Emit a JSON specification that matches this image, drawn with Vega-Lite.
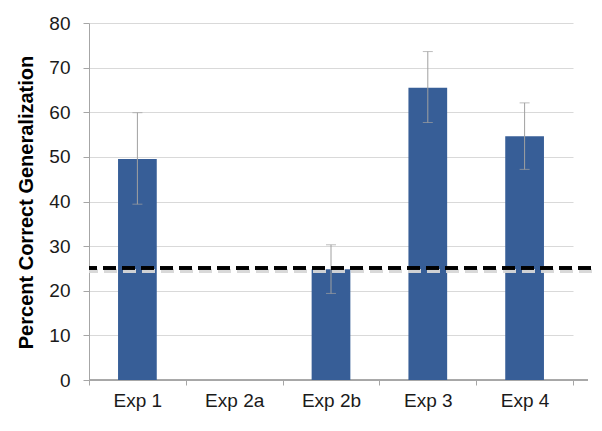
{
  "$schema": "https://vega.github.io/schema/vega-lite/v6.json",
  "autosize": {"type": "none"},
  "width": 499,
  "height": 357,
  "padding": {"left": 89, "top": 23, "right": 14, "bottom": 51},
  "background": "white",
  "config": {
    "view": {"stroke": null},
    "font": "Liberation Sans",
    "axis": {"labelFont": "Liberation Sans", "titleFont": "Liberation Sans"}
  },
  "data": {
    "values": [
      {"exp": "Exp 1", "mean": 49.5, "lo": 39.4, "hi": 59.9},
      {"exp": "Exp 2a", "mean": null, "lo": null, "hi": null},
      {"exp": "Exp 2b", "mean": 24.8, "lo": 19.4, "hi": 30.3},
      {"exp": "Exp 3", "mean": 65.5, "lo": 57.7, "hi": 73.6},
      {"exp": "Exp 4", "mean": 54.6, "lo": 47.2, "hi": 62.1}
    ]
  },
  "encoding": {
    "x": {
      "field": "exp",
      "type": "nominal",
      "sort": null,
      "scale": {"domain": ["Exp 1", "Exp 2a", "Exp 2b", "Exp 3", "Exp 4"], "range": [0, 484], "paddingInner": 0, "paddingOuter": 0},
      "axis": {
        "title": null,
        "labelAngle": 0,
        "labelFontSize": 19,
        "labelColor": "#1a1a1a",
        "labelPadding": 6,
        "tickBand": "extent",
        "tickSize": 5,
        "tickColor": "#a6a6a6",
        "domain": false
      }
    }
  },
  "layer": [
    {
      "mark": {"type": "rule", "color": "#a6a6a6", "strokeWidth": 1},
      "encoding": {"y": {"datum": 0, "type": "quantitative", "scale": {"domain": [0, 80]}}, "x": null}
    },
    {
      "mark": {"type": "bar", "color": "#375E97", "width": {"band": 0.4}},
      "encoding": {
        "y": {
          "field": "mean",
          "type": "quantitative",
          "scale": {"domain": [0, 80]},
          "axis": {
            "title": "Percent Correct Generalization",
            "titleFontSize": 20,
            "titleFontWeight": "bold",
            "titleColor": "#000000",
            "titleX": -57,
            "titleY": 179,
            "titleAlign": "center",
            "titleBaseline": "alphabetic",
            "titleAngle": -90,
            "values": [0, 10, 20, 30, 40, 50, 60, 70, 80],
            "labelFontSize": 19,
            "labelColor": "#1a1a1a",
            "labelPadding": 13,
            "tickSize": 6,
            "tickColor": "#a6a6a6",
            "domainColor": "#a6a6a6",
            "gridColor": "#d9d9d9",
            "grid": true
          }
        }
      }
    },
    {
      "mark": {"type": "rule", "color": "#a0a0a0", "strokeWidth": 1},
      "encoding": {
        "y": {"field": "lo", "type": "quantitative"},
        "y2": {"field": "hi"}
      }
    },
    {
      "mark": {"type": "tick", "color": "#a0a0a0", "size": 10, "thickness": 1},
      "encoding": {"y": {"field": "hi", "type": "quantitative"}}
    },
    {
      "mark": {"type": "tick", "color": "#a0a0a0", "size": 10, "thickness": 1},
      "encoding": {"y": {"field": "lo", "type": "quantitative"}}
    },
    {
      "mark": {"type": "rule", "color": "#d6d6d6", "opacity": 0.45, "strokeWidth": 4, "strokeDash": [13, 6], "xOffset": 4, "yOffset": 3},
      "encoding": {"y": {"datum": 25.1, "type": "quantitative"}, "x": null}
    },
    {
      "mark": {"type": "rule", "color": "#000000", "strokeWidth": 3, "strokeDash": [13, 6], "xOffset": 3},
      "encoding": {"y": {"datum": 25.1, "type": "quantitative"}, "x": null}
    }
  ]
}
